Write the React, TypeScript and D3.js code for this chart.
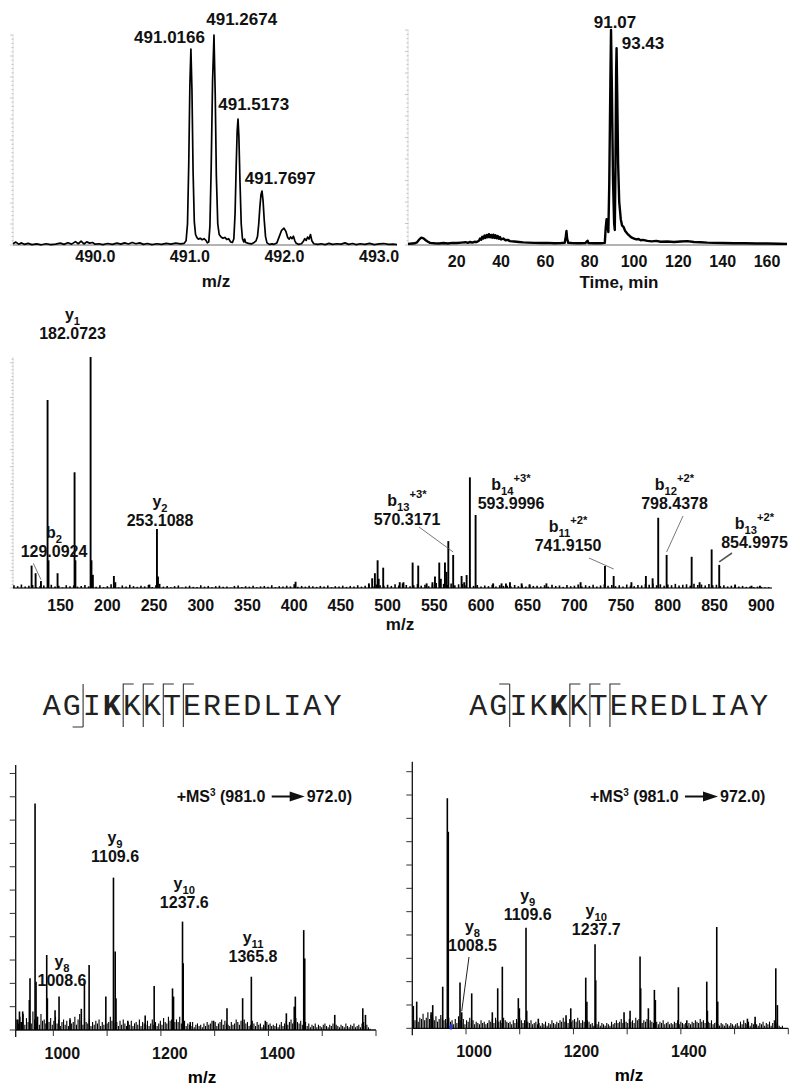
import React from "react";
import * as d3 from "d3";

const SANS = "Arial, 'Liberation Sans', Helvetica, sans-serif";
const MONO = "'Courier New', 'Liberation Mono', monospace";

// ---------- panel A: precursor isotope envelope (m/z, rel. intensity %)
const isotopeProfile: [number, number][] = [
  [489.13, 0.6], [489.16, 1.4], [489.19, 0.4], [489.22, 1.0], [489.25, 0.3], [489.29, 0.8], [489.33, 0.2],
  [489.38, 0.5], [489.43, 0.1], [489.48, 0.6], [489.53, 0.2], [489.58, 0.4], [489.63, 0.9], [489.67, 0.3],
  [489.71, 1.1], [489.75, 0.4], [489.79, 1.6], [489.82, 0.6], [489.85, 1.8], [489.88, 0.5], [489.91, 1.5],
  [489.94, 0.9], [489.97, 1.2], [490.0, 0.4], [490.04, 0.6], [490.08, 0.2], [490.13, 0.7], [490.18, 0.3],
  [490.23, 0.9], [490.27, 0.4], [490.31, 1.0], [490.35, 0.5], [490.39, 1.2], [490.43, 0.6], [490.47, 1.0],
  [490.51, 0.3], [490.55, 0.7], [490.6, 0.2], [490.65, 0.6], [490.7, 0.3], [490.75, 0.8], [490.8, 0.4],
  [490.85, 0.9], [490.9, 0.5], [490.94, 0.8],
  [490.96, 2], [490.975, 10], [490.988, 38], [491.0, 76], [491.011, 93.3], [491.022, 74], [491.034, 35],
  [491.047, 11], [491.06, 5], [491.075, 3.5], [491.09, 2.8], [491.11, 3.2], [491.13, 2.5], [491.15, 3],
  [491.17, 2.2], [491.185, 1],
  [491.2, 1.5], [491.212, 9], [491.225, 36], [491.24, 78], [491.255, 100], [491.268, 72], [491.28, 33],
  [491.295, 10], [491.31, 5], [491.33, 3.8], [491.35, 3.2], [491.37, 3.6], [491.39, 2.6], [491.41, 3],
  [491.43, 1.5], [491.45, 1.2],
  [491.465, 3], [491.478, 15], [491.49, 38], [491.5, 54], [491.509, 60], [491.518, 52], [491.53, 30],
  [491.543, 10], [491.556, 3], [491.57, 1.5], [491.58, 2.8], [491.59, 1.2], [491.62, 0.8], [491.65, 0.5],
  [491.68, 1.2], [491.7, 2],
  [491.715, 4], [491.728, 10], [491.74, 18], [491.752, 24], [491.763, 25.7], [491.774, 21], [491.786, 12],
  [491.8, 4], [491.815, 1], [491.84, 0.3], [491.87, 0.5], [491.89, 0.3],
  [491.92, 1], [491.945, 4], [491.97, 7], [491.995, 8], [492.015, 6.5], [492.035, 3.5], [492.05, 2.8],
  [492.065, 3.8], [492.08, 3], [492.095, 4.2], [492.11, 2], [492.125, 0.8], [492.15, 0.3], [492.18, 0.6],
  [492.2, 1.8], [492.215, 3], [492.23, 2.2], [492.245, 3.8], [492.26, 2.8], [492.275, 5], [492.29, 2],
  [492.31, 0.6], [492.35, 0.3], [492.39, 0.6], [492.43, 0.2], [492.47, 0.8], [492.51, 0.3], [492.55, 0.6],
  [492.6, 0.4], [492.64, 1.0], [492.68, 0.3], [492.72, 0.7], [492.76, 0.2], [492.8, 0.6], [492.85, 0.3],
  [492.9, 0.8], [492.95, 0.2], [493.0, 0.5], [493.05, 0.7], [493.1, 0.3], [493.15, 0.4], [493.19, 0.2],
];
const isotopeLabels = ["491.0166", "491.2674", "491.5173", "491.7697"];
const isotopeTicks = [490, 491, 492, 493];

// ---------- panel B: extracted ion chromatogram (min, rel. intensity %)
const xicProfile: [number, number][] = [
  [-2, 0.5], [0, 0.7], [1, 0.8], [2, 1.2], [3, 2.5], [4, 3.4], [5, 3.1], [6, 2.2], [7, 1.5], [8, 1.0],
  [10, 0.8], [12, 0.7], [14, 0.9], [16, 0.7], [18, 1.0], [20, 0.9], [22, 1.1], [24, 1.3], [25, 1.0],
  [26, 1.4], [27, 1.1], [28, 1.5], [29, 1.4], [30, 2.0], [30.5, 3.0], [31, 2.4], [31.5, 3.8], [32, 3.0],
  [32.5, 4.4], [33, 3.3], [33.5, 4.7], [34, 3.6], [34.5, 5.0], [35, 3.6], [35.5, 4.7], [36, 3.4],
  [36.5, 4.8], [37, 3.3], [37.5, 4.5], [38, 3.1], [38.5, 4.2], [39, 2.9], [39.5, 3.7], [40, 2.6],
  [41, 3.0], [42, 2.2], [43, 2.4], [44, 1.8], [46, 1.6], [48, 1.4], [50, 1.2], [52, 1.1], [55, 1.0],
  [58, 0.9], [61, 1.0], [64, 0.8], [67, 0.9], [68.7, 1.0], [69.2, 4], [69.5, 6.5], [69.8, 3], [70.3, 1.0],
  [72, 0.9], [75, 0.8], [78, 0.9], [79, 2.0], [79.4, 0.9], [82, 0.8], [85, 0.8], [86.8, 1.0], [87.2, 8],
  [87.6, 12], [88, 9], [88.4, 6], [88.8, 28], [89.3, 75], [89.6, 100], [90.0, 72], [90.5, 30], [91.0, 10],
  [91.3, 7], [91.6, 35], [91.9, 80], [92.1, 91.5], [92.4, 70], [92.8, 38], [93.3, 20], [94, 12],
  [94.6, 9], [95.2, 8.5], [96, 6.5], [97, 5.2], [98, 4.2], [99, 3.4], [100, 3.0], [101, 2.6], [102, 2.8],
  [103, 2.2], [104, 2.4], [106, 1.9], [108, 1.7], [110, 1.9], [112, 1.5], [115, 1.6], [118, 1.4],
  [121, 1.6], [124, 1.8], [127, 1.4], [130, 1.3], [133, 1.1], [136, 1.0], [140, 0.9], [145, 0.8],
  [150, 0.8], [155, 0.7], [160, 0.7], [165, 0.6], [169, 0.5],
];
const xicLabels = ["91.07", "93.43"];
const xicTicks = [20, 40, 60, 80, 100, 120, 140, 160];

// ---------- panel C: MS2 spectrum (m/z, rel. intensity %)
const ms2Peaks: [number, number][] = [
  [118.9, 9.7], [123.2, 6.4], [128.9, 3], [136.0, 81.4], [137.0, 12], [146.7, 6.4], [164.9, 50.1],
  [165.8, 12], [182.07, 100], [183.0, 12], [184.5, 5.7], [207, 5.2], [208.5, 2.5], [245, 1.5],
  [253.1, 25.5], [254.2, 5], [401.5, 2.7], [480, 2], [483.5, 4.2], [486.4, 6.4], [489.3, 12], [490.5, 4],
  [495.3, 8.8], [513, 2.5], [517, 2.5], [526.8, 11], [532.8, 9.7], [541.8, 2], [548, 2.5], [550.7, 5],
  [555.3, 11], [557, 4], [561.4, 11], [563, 7], [565, 20.3], [570.2, 14.3], [579.2, 5.2], [582, 2.5],
  [584.6, 5.6], [588.1, 47.9], [594.2, 31.6], [613, 2], [622, 2], [626.7, 2], [631, 2.5], [643.5, 2],
  [652, 1.5], [670, 2], [706.6, 2.5], [732.7, 9.5], [742, 5.2], [761, 2.5], [776.5, 5.2], [783.7, 4.2],
  [789.7, 30.4], [798.7, 14.3], [825.5, 13.5], [834, 2.5], [846.9, 16.7], [855, 10], [872, 1.5],
  [889.6, 1], [898.6, 1],
];
const ms2NoiseStart = 100;
const ms2NoiseStep = 4;
const ms2Noise = [
  1.2, 0.8, 1.5, 0.6, 1.0, 1.3, 0.4, 0.9, 1.1, 0.5, 1.4, 0.7, 1.0, 0.3, 1.2, 0.8, 1.1, 0.6, 0.9, 1.3,
  0.7, 1.0, 0.5, 1.2, 0.4, 0.8, 1.6, 0.9, 0.3, 1.1, 0.6, 1.4, 0.8, 0.5, 1.0, 0.7, 1.3, 0.4, 1.2, 1.8,
  0.6, 0.9, 0.3, 0.8, 1.1, 0.2, 0.7, 1.0, 0.5, 0.4, 1.2, 0.6, 0.9, 0.3, 0.8, 1.0, 0.5, 0.7, 0.2, 0.9,
  1.1, 0.4, 0.8, 0.6, 1.0, 0.3, 0.7, 0.9, 0.5, 1.2, 0.4, 0.8, 0.6, 1.0, 0.7, 1.6, 0.5, 0.9, 0.6, 1.0,
  0.8, 0.5, 0.9, 0.7, 1.1, 0.4, 0.8, 0.6, 1.0, 0.5, 0.9, 0.7, 1.2, 0.6, 1.0, 1.3, 0.8, 1.5, 1.2, 1.0,
  1.4, 0.9, 1.6, 1.1, 2.0, 1.3, 0.8, 1.2, 1.7, 1.0, 1.4, 0.8, 1.5, 2.2, 1.1, 1.8, 1.3, 2.0, 1.2, 1.6,
  1.8, 1.2, 1.5, 0.9, 1.3, 0.7, 1.1, 0.8, 1.4, 0.6, 1.2, 0.9, 1.0, 0.7, 1.3, 0.8, 1.1, 0.6, 1.5, 0.9,
  1.0, 0.7, 1.2, 0.6, 1.4, 0.9, 1.1, 0.5, 1.3, 0.8, 1.0, 1.5, 0.7, 1.2, 0.9, 1.4, 0.6, 1.1, 1.6, 1.0,
  1.3, 0.8, 1.2, 0.7, 1.5, 1.0, 0.8, 1.3, 1.1, 1.7, 1.4, 1.9, 1.2, 1.6, 1.0, 1.5, 1.2, 1.8, 1.1, 1.4,
  1.6, 1.0, 1.8, 1.3, 1.5, 1.1, 1.7, 1.2, 1.4, 0.9, 1.2, 0.7, 1.0, 0.8, 0.6, 0.9, 0.5, 0.7, 0.4, 0.6,
  0.5, 0.3, 0.4,
];
const ms2Ticks = [150, 200, 250, 300, 350, 400, 450, 500, 550, 600, 650, 700, 750, 800, 850, 900];
const ms2Ions = [
  { ion: "y", sub: "1", sup: "", value: "182.0723" },
  { ion: "b", sub: "2", sup: "", value: "129.0924" },
  { ion: "y", sub: "2", sup: "", value: "253.1088" },
  { ion: "b", sub: "13", sup: "+3*", value: "570.3171" },
  { ion: "b", sub: "14", sup: "+3*", value: "593.9996" },
  { ion: "b", sub: "11", sup: "+2*", value: "741.9150" },
  { ion: "b", sub: "12", sup: "+2*", value: "798.4378" },
  { ion: "b", sub: "13", sup: "+2*", value: "854.9975" },
];

// ---------- panels D/E: MS3 spectra
const peptide = "AGIKKKTEREDLIAY";
const ms3Title = ["+MS", "3", " (981.0", "972.0)"];

const ms3PeaksD: [number, number][] = [
  [934, 4], [937, 7], [940, 3], [943, 7], [955.4, 11.3], [956.6, 19.5], [966, 85.5], [967.8, 18.2],
  [970, 5], [987.7, 28.3], [988.9, 12], [1003.2, 7.5], [1010.6, 12.6], [1031, 4], [1052, 8],
  [1057.8, 18.2], [1066.5, 24.5], [1097.6, 12.6], [1111.8, 57.5], [1115, 29.6], [1116.5, 12],
  [1138.5, 3.5], [1170.8, 5.5], [1187.5, 16.6], [1221.6, 15.7], [1223.5, 12.6], [1240.2, 40.9],
  [1241.5, 25.2], [1254.6, 3], [1298, 3.5], [1322.9, 8.2], [1352, 12], [1368.2, 20.1], [1394.2, 3.5],
  [1433.3, 6.3], [1448, 8.8], [1450, 12.6], [1465.6, 37.7], [1467.5, 27], [1523.3, 5.7], [1575.4, 8.2],
  [1580.4, 5.7],
];
const ms3NoiseStartD = 932;
const ms3NoiseD = [
  4, 2.5, 5, 3, 6, 2, 4.5, 3, 5.5, 2.5, 7, 4, 3, 5, 2, 6, 3.5, 4, 2.5, 5,
  3, 4.5, 2, 3.5, 5, 2.5, 4, 1.5, 3, 4, 2, 3.5, 1.5, 4.5, 2.5, 3, 5, 2, 4, 6,
  3.5, 2, 4.5, 3, 2.5, 4, 1.5, 3, 2, 3.5, 2.5, 4, 1.5, 3, 2, 4.5, 2.5, 3, 5, 3.5,
  4, 2.5, 3, 1.5, 3.5, 2, 4, 2.5, 1.5, 3, 2, 3.5, 1.5, 2.5, 3, 2, 4, 1.5, 3, 2.5,
  2, 3.5, 1.5, 2.5, 4, 2, 3, 1.5, 2.5, 3.5, 2, 4.5, 3, 2.5, 5, 3.5, 4, 6, 3, 4,
  3, 5, 2.5, 2, 3.5, 1.5, 2.5, 2, 1.5, 3, 1, 2, 2.5, 1.5, 2, 1, 2.5, 1.5, 3, 2,
  2.5, 3.5, 2, 3, 1.5, 2.5, 3, 4, 2, 3.5, 2.5, 2, 1.5, 3, 2, 2.5, 4, 3, 2, 3.5,
  3, 4, 2.5, 3, 1.5, 2, 3.5, 2.5, 1.5, 3, 2, 2.5, 1, 2, 1.5, 3, 2, 2.5, 1.5, 2,
  1.5, 2.5, 1, 2, 3, 1.5, 2.5, 3.5, 2, 3, 4, 2.5, 3, 4.5, 3, 2.5, 3.5, 2, 4, 3,
  1.5, 2.5, 1, 2, 1.5, 2.5, 1, 2, 1.5, 1, 2, 2.5, 1.5, 1, 2, 1.5, 2.5, 1, 2, 1.5,
  1, 2, 1.5, 1, 2.5, 1.5, 1, 2, 1.5, 2.5, 1, 1.5, 2, 1, 2.5, 3, 1.5, 2, 1, 0.5,
];

const ms3PeaksE: [number, number][] = [
  [901.9, 8.4], [908.2, 10], [935, 6], [938, 8.7], [956.6, 15.6], [965.2, 86.3], [967, 73.7],
  [988.8, 17.2], [992, 6], [1010.6, 13.1], [1049, 6], [1059, 15], [1067.6, 23.1], [1097.4, 11.3],
  [1099.3, 7.5], [1111.7, 37.7], [1113, 6.6], [1134.6, 3.6], [1186.2, 4.9], [1195, 7.5], [1222.9, 19],
  [1225, 10], [1240.2, 31.5], [1241.5, 18], [1294.2, 6], [1305.4, 6.6], [1324, 26.9], [1325.2, 15],
  [1339.5, 7.5], [1350.7, 14.4], [1352.5, 10.6], [1395.4, 15.4], [1411, 3], [1448.2, 17.5],
  [1449.4, 6.6], [1466.8, 38], [1468.6, 10], [1523.9, 3.6], [1538.2, 4.3], [1576.7, 22.5], [1579.7, 8.7],
];
const ms3NoiseStartE = 902;
const ms3NoiseE = [
  5, 3, 4.5, 2.5, 4, 3.5, 5.5, 3, 4, 6, 3.5, 5, 4, 3, 4.5, 2.5, 3.5, 5, 4, 3,
  3.5, 2, 4, 2.5, 3, 1.5, 3.5, 2, 4.5, 3, 2, 3.5, 1.5, 3, 2.5, 4, 2, 3, 1.5, 2.5,
  2, 1.5, 3, 2, 2.5, 1.5, 2, 3, 2.5, 3.5, 2, 4, 3, 2.5, 3, 2, 4, 3, 2.5, 2,
  2.5, 1.5, 3, 2, 3.5, 2.5, 4, 3, 2, 3, 1.5, 2.5, 2, 3, 1.5, 2, 2.5, 1.5, 2, 1,
  2, 1.5, 2.5, 1, 2, 1.5, 3, 2, 1.5, 2.5, 2, 3, 2.5, 4, 2.5, 3, 2, 3.5, 2.5, 3,
  3.5, 2.5, 4, 3, 2, 3, 2.5, 2, 3, 2.5, 1.5, 2, 1, 2, 1.5, 2.5, 1, 2, 1.5, 1,
  2, 1.5, 1, 2.5, 1.5, 2, 3, 2, 2.5, 3.5, 2, 3, 2.5, 2, 3.5, 2.5, 3, 2, 4, 3,
  3.5, 2.5, 2, 3, 2.5, 3.5, 2, 3, 2.5, 2, 3, 2.5, 1.5, 2.5, 2, 3, 1.5, 2, 2.5, 1.5,
  2, 1.5, 2.5, 2, 3, 1.5, 2.5, 2, 1.5, 2, 1, 2, 1.5, 2.5, 2, 3, 2.5, 2, 3.5, 2.5,
  3, 2, 3.5, 2.5, 2, 3, 1.5, 2, 2.5, 1.5, 1, 2, 1.5, 1, 2, 1.5, 1, 2, 1.5, 1,
  1.5, 2, 1, 2.5, 1.5, 3, 2, 1.5, 2.5, 1, 2, 1.5, 2.5, 1.5, 1, 2, 1.5, 2.5, 1, 2,
  1.5, 2.5, 1, 2, 3, 2, 1.5, 1, 0.5, 1,
];
const ms3NoiseStep = 3;
const precursorMarkerE: [number, number] = [972.0, 0.6];
const ms3Ticks = [1000, 1100, 1200, 1300, 1400, 1500, 1600];
const ms3TickLabels = [1000, 1200, 1400];
const ms3IonsD = [
  { ion: "y", sub: "8", value: "1008.6" },
  { ion: "y", sub: "9", value: "1109.6" },
  { ion: "y", sub: "10", value: "1237.6" },
  { ion: "y", sub: "11", value: "1365.8" },
];
const ms3IonsE = [
  { ion: "y", sub: "8", value: "1008.5" },
  { ion: "y", sub: "9", value: "1109.6" },
  { ion: "y", sub: "10", value: "1237.7" },
];

type Scale = d3.ScaleLinear<number, number>;

function Sticks({ data, x, y, w = 1.5, color = "#000" }: { data: [number, number][]; x: Scale; y: Scale; w?: number; color?: string }) {
  return (
    <g stroke={color} strokeWidth={w}>
      {data.map(([m, h], i) => (
        <line key={i} x1={x(m)} x2={x(m)} y1={y(0)} y2={y(h)} />
      ))}
    </g>
  );
}

function FaintYTicks({ x, y, step, major }: { x: number; y: Scale; step: number; major: number }) {
  const vals = d3.range(0, 100.01, step);
  return (
    <g stroke="#b8b8b8" strokeWidth={0.8}>
      <line x1={x} x2={x} y1={y(0)} y2={y(100)} stroke="#d8d8d8" />
      {vals.map((v, i) => (
        <line key={i} x1={x - (i % major === 0 ? 3 : 1.5)} x2={x + 0.5} y1={y(v)} y2={y(v)} />
      ))}
    </g>
  );
}

function IonLabel({ x, y, ion, sub, sup, value, size = 16 }: any) {
  return (
    <g fontWeight="bold" fill="#111" textAnchor="middle">
      <text x={x} y={y - 19} fontSize={size}>
        {ion}
        <tspan fontSize={size * 0.7} dy={size * 0.3}>{sub}</tspan>
        {sup ? <tspan fontSize={size * 0.7} dy={-size * 0.78}>{sup}</tspan> : null}
      </text>
      <text x={x} y={y} fontSize={size}>{value}</text>
    </g>
  );
}

function Ms3Title({ x, y }: { x: number; y: number }) {
  return (
    <g fontWeight="bold" fontSize={16} fill="#111">
      <text x={x} y={y}>
        {ms3Title[0]}
        <tspan fontSize={10} dy={-6}>{ms3Title[1]}</tspan>
        <tspan dy={6}>{ms3Title[2]}</tspan>
      </text>
      <line x1={x + 95} x2={x + 114} y1={y - 5.5} y2={y - 5.5} stroke="#111" strokeWidth={2} />
      <path d={`M${x + 113},${y - 10.5}L${x + 128},${y - 5.5}L${x + 113},${y - 0.5}Z`} />
      <text x={x + 130} y={y}>{ms3Title[3]}</text>
    </g>
  );
}

function Peptide({ x0, y, bold, bCut, bTop, yCuts }: { x0: number; y: number; bold: number; bCut: number; bTop: boolean; yCuts: number[] }) {
  const cw = 20.05;
  const top = y - 31;
  const bot = y + 12;
  const bx = x0 + bCut * cw + 1.3;
  const by = bTop ? top : bot;
  return (
    <g>
      <g fontFamily={MONO} fontSize={30} fill="#222" textAnchor="middle">
        {peptide.split("").map((c, i) => (
          <text key={i} x={x0 + i * cw + cw / 2} y={y} fontWeight={i === bold ? "bold" : "normal"}>{c}</text>
        ))}
      </g>
      <g stroke="#333" strokeWidth={1.1} fill="none">
        <path d={`M${bx},${top}V${bot}M${bx},${by}H${bx - 10.5}`} />
        {yCuts.map((k) => {
          const xx = x0 + k * cw + 1.3;
          return <path key={k} d={`M${xx},${bot}V${top}H${xx + 10.5}`} />;
        })}
      </g>
    </g>
  );
}

export default function App() {
  // panel A
  const xA = d3.scaleLinear().domain([489.13, 493.19]).range([13, 397]);
  const yA = d3.scaleLinear().domain([0, 100]).range([245, 35]);
  const lineA = d3.line<[number, number]>().x((d) => xA(d[0])).y((d) => yA(d[1]));
  const posA = [[169.5, 43], [241.7, 25], [253.7, 110], [280.3, 184]];

  // panel B
  const xB = d3.scaleLinear().domain([-2, 169]).range([408, 787]);
  const yB = d3.scaleLinear().domain([0, 100]).range([245, 30]);
  const lineB = d3.line<[number, number]>().x((d) => xB(d[0])).y((d) => yB(d[1]));
  const posB = [[615, 28], [643, 49]];

  // panel C
  const xC = d3.scaleLinear().domain([99, 911.5]).range([13, 772]);
  const yC = d3.scaleLinear().domain([0, 100]).range([588, 357]);
  const noiseC: [number, number][] = ms2Noise.map((h, i) => [ms2NoiseStart + i * ms2NoiseStep, h]);
  const posC = [[72.5, 339], [54, 557], [160, 526], [407, 525], [511, 509], [568, 551], [674.5, 509], [754.5, 548]];
  // leader lines: label end point -> peak (m/z, height) with a small gap
  const leadersC = [
    { x1: 33.3, y1: 563.3, mz: 128.9, h: 3, gap: 1.5 },
    { x1: 419, y1: 527, mz: 570.2, h: 14.3, gap: 3 },
    { x1: 589, y1: 558, mz: 742, h: 5.2, gap: 7 },
    { x1: 683, y1: 516, mz: 798.7, h: 14.3, gap: 3 },
    { x1: 732, y1: 553, mz: 855, h: 10, gap: 3 },
  ];

  // panel D
  const xD = d3.scaleLinear().domain([930, 1600]).range([15.7, 376]);
  const yD = d3.scaleLinear().domain([0, 100]).range([1030, 765]);
  const noiseD: [number, number][] = ms3NoiseD.map((h, i) => [ms3NoiseStartD + i * ms3NoiseStep, h]);
  const posD = [[62, 986], [115, 862], [184.3, 908], [253, 962]];

  // panel E
  const xE = d3.scaleLinear().domain([900, 1600]).range([412.3, 788.3]);
  const yE = d3.scaleLinear().domain([0, 100]).range([1028.3, 761.7]);
  const noiseE: [number, number][] = ms3NoiseE.map((h, i) => [ms3NoiseStartE + i * ms3NoiseStep, h]);
  const posE = [[472.5, 951], [527.7, 920], [596.3, 935]];
  const leaderE = { x1: 469, y1: 957, mz: 992, h: 6, gap: 1 };

  const ms3Axis = (x: Scale, y: Scale, labelShift: number, tickStep: number) => (
    <g>
      <line x1={x.range()[0]} x2={x.range()[1]} y1={y(0)} y2={y(0)} stroke="#111" strokeWidth={1.3} />
      <line x1={x.range()[0]} x2={x.range()[0]} y1={y(100)} y2={y(0) + 7} stroke="#111" strokeWidth={1.3} />
      {ms3Ticks.map((t) => (
        <line key={t} x1={x(t)} x2={x(t)} y1={y(0)} y2={y(0) + 6} stroke="#333" strokeWidth={1} />
      ))}
      {d3.range(0, 100, tickStep).map((v, i) => (
        <line key={i} x1={x.range()[0] - 6} x2={x.range()[0]} y1={y(v)} y2={y(v)} stroke="#333" strokeWidth={1} />
      ))}
      <g fontWeight="bold" fontSize={16} textAnchor="middle" fill="#111">
        {ms3TickLabels.map((t) => (
          <text key={t} x={x(t) + labelShift} y={y(0) + 29}>{t}</text>
        ))}
      </g>
    </g>
  );

  return (
    <svg width={800} height={1090} style={{ position: "absolute", left: 0, top: 0, background: "#fff" }} fontFamily={SANS}>
      <rect width={800} height={1090} fill="#fff" />

      {/* ---- A: isotope envelope */}
      <FaintYTicks x={13} y={yA} step={2} major={5} />
      <line x1={13} x2={397} y1={yA(0)} y2={yA(0)} stroke="#666" strokeWidth={1} />
      <path d={lineA(isotopeProfile) || ""} fill="none" stroke="#000" strokeWidth={1.7} strokeLinejoin="round" />
      <g fontWeight="bold" fontSize={17} textAnchor="middle" fill="#111">
        {isotopeLabels.map((t, i) => (
          <text key={t} x={posA[i][0]} y={posA[i][1]}>{t}</text>
        ))}
      </g>
      <g fontWeight="bold" fontSize={16} textAnchor="middle" fill="#111">
        {isotopeTicks.map((t) => (
          <text key={t} x={xA(t)} y={262}>{t.toFixed(1)}</text>
        ))}
        <text x={216} y={287} fontSize={17}>m/z</text>
      </g>

      {/* ---- B: chromatogram */}
      <FaintYTicks x={408} y={yB} step={2} major={5} />
      <line x1={408} x2={787} y1={yB(0)} y2={yB(0)} stroke="#666" strokeWidth={1} />
      <path d={lineB(xicProfile) || ""} fill="none" stroke="#000" strokeWidth={2.4} strokeLinejoin="round" />
      <g fontWeight="bold" fontSize={17} textAnchor="middle" fill="#111">
        {xicLabels.map((t, i) => (
          <text key={t} x={posB[i][0]} y={posB[i][1]}>{t}</text>
        ))}
      </g>
      <g fontWeight="bold" fontSize={16} textAnchor="middle" fill="#111">
        {xicTicks.map((t) => (
          <text key={t} x={xB(t)} y={267}>{t}</text>
        ))}
        <text x={619} y={288} fontSize={17}>Time, min</text>
      </g>

      {/* ---- C: MS2 spectrum */}
      <FaintYTicks x={13} y={yC} step={1.5} major={5} />
      <line x1={13} x2={772} y1={yC(0)} y2={yC(0)} stroke="#444" strokeWidth={1.6} />
      <Sticks data={noiseC} x={xC} y={yC} w={1.6} />
      <Sticks data={ms2Peaks} x={xC} y={yC} w={1.9} />
      <g stroke="#555" strokeWidth={0.8}>
        {leadersC.map((l, i) => (
          <line key={i} x1={l.x1} y1={l.y1} x2={xC(l.mz)} y2={yC(l.h) - l.gap} strokeWidth={i === 4 ? 1.6 : 0.8} />
        ))}
      </g>
      {ms2Ions.map((d, i) => (
        <IonLabel key={i} x={posC[i][0]} y={posC[i][1]} {...d} />
      ))}
      <g fontWeight="bold" fontSize={16} textAnchor="middle" fill="#111">
        {ms2Ticks.map((t) => (
          <text key={t} x={xC(t)} y={611}>{t}</text>
        ))}
        <text x={400} y={630} fontSize={17}>m/z</text>
      </g>

      {/* ---- sequences */}
      <Peptide x0={41.7} y={715} bold={3} bCut={2} bTop={false} yCuts={[4, 5, 6, 7]} />
      <Peptide x0={468.3} y={715} bold={4} bCut={2} bTop={true} yCuts={[5, 6, 7]} />

      {/* ---- D: MS3 */}
      {ms3Axis(xD, yD, 9, 8.8)}
      <Sticks data={noiseD} x={xD} y={yD} w={1.1} />
      <Sticks data={ms3PeaksD} x={xD} y={yD} w={1.6} />
      {ms3IonsD.map((d, i) => (
        <IonLabel key={i} x={posD[i][0]} y={posD[i][1]} {...d} />
      ))}
      <Ms3Title x={176.7} y={802} />
      <text x={202} y={1083} fontWeight="bold" fontSize={17} textAnchor="middle">m/z</text>

      {/* ---- E: MS3 */}
      {ms3Axis(xE, yE, 8, 8.75)}
      <Sticks data={noiseE} x={xE} y={yE} w={1.1} />
      <Sticks data={ms3PeaksE} x={xE} y={yE} w={1.6} />
      <path
        d={d3.symbol().type(d3.symbolDiamond).size(14)() || ""}
        transform={`translate(${xE(precursorMarkerE[0])},${yE(precursorMarkerE[1])})`}
        fill="#2038d0"
      />
      <line x1={leaderE.x1} y1={leaderE.y1} x2={xE(leaderE.mz)} y2={yE(leaderE.h) - leaderE.gap} stroke="#222" strokeWidth={1} />
      {ms3IonsE.map((d, i) => (
        <IonLabel key={i} x={posE[i][0]} y={posE[i][1]} {...d} />
      ))}
      <Ms3Title x={590} y={802} />
      <text x={629} y={1081} fontWeight="bold" fontSize={17} textAnchor="middle">m/z</text>
    </svg>
  );
}
